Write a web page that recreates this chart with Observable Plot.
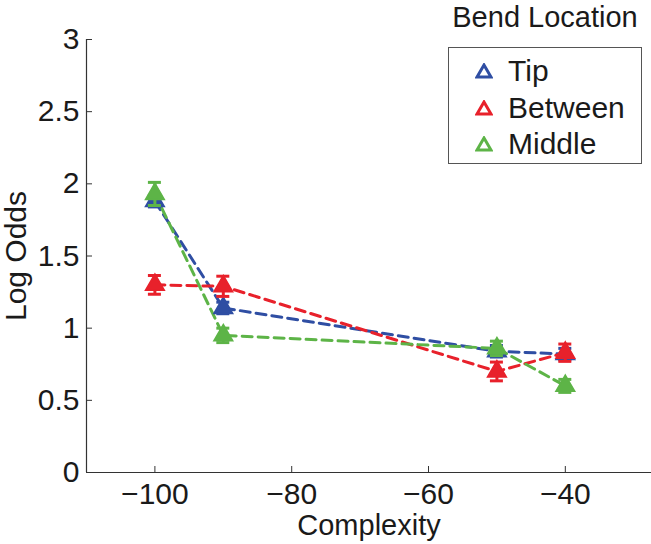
<!DOCTYPE html>
<html>
<head>
<meta charset="utf-8">
<script src="https://cdn.jsdelivr.net/npm/d3@7"></script>
<script src="https://cdn.jsdelivr.net/npm/@observablehq/plot@0.6"></script>
<style>
  body { margin: 0; background: #fff; }
  #wrap { position: relative; width: 651px; height: 544px; font-family: "Liberation Sans", Arial, sans-serif; }
  #legend-title { position: absolute; left: 440px; top: 3px; width: 210px; text-align: center; font-size: 29px; line-height: 29px; color: #1a1a1a; }
  #legend { position: absolute; left: 448px; top: 47px; width: 194px; height: 117px; border: 1.3px solid #555; box-sizing: border-box; }
  .row { position: absolute; left: 0; height: 36px; display: flex; align-items: center; font-size: 30px; color: #1a1a1a; }
  .row svg { margin-left: 26px; margin-right: 15px; }
</style>
</head>
<body>
<div id="wrap"></div>
<script>
const complexity = [-100, -90, -50, -40];
const seriesNames = ["Tip", "Between", "Middle"];
const colors = ["#2f4ea3", "#e8212b", "#5db447"];
const tipValues = [1.88, 1.14, 0.84, 0.82];
const tipErr = [0.04, 0.04, 0.04, 0.04];
const betweenValues = [1.30, 1.29, 0.70, 0.83];
const betweenErr = [0.065, 0.07, 0.065, 0.06];
const middleValues = [1.93, 0.95, 0.86, 0.60];
const middleErr = [0.08, 0.05, 0.05, 0.045];
const yTicks = [0, 0.5, 1, 1.5, 2, 2.5, 3];
const xTicks = [-100, -80, -60, -40];

const allValues = [tipValues, betweenValues, middleValues];
const allErr = [tipErr, betweenErr, middleErr];
const data = [];
seriesNames.forEach((s, i) => complexity.forEach((c, j) => data.push({series: s, x: c, y: allValues[i][j], e: allErr[i][j]})));

const capHalf = 0.95;
const marks = [];
seriesNames.forEach((s, i) => {
  const d = data.filter(r => r.series === s);
  marks.push(Plot.line(d, {x: "x", y: "y", stroke: colors[i], strokeWidth: 3, strokeDasharray: "10,6"}));
});
seriesNames.forEach((s, i) => {
  const d = data.filter(r => r.series === s);
  marks.push(Plot.ruleX(d, {x: "x", y1: r => r.y - r.e, y2: r => r.y + r.e, stroke: colors[i], strokeWidth: 3}));
  marks.push(Plot.ruleY(d, {y: r => r.y + r.e, x1: r => r.x - capHalf, x2: r => r.x + capHalf, stroke: colors[i], strokeWidth: 3}));
  marks.push(Plot.ruleY(d, {y: r => r.y - r.e, x1: r => r.x - capHalf, x2: r => r.x + capHalf, stroke: colors[i], strokeWidth: 3}));
  marks.push(Plot.dot(d, {x: "x", y: "y", symbol: "triangle", r: 7, fill: colors[i], stroke: colors[i], strokeWidth: 1.5}));
});

const chart = Plot.plot({
  width: 651,
  height: 544,
  marginLeft: 86,
  marginRight: 0,
  marginTop: 39,
  marginBottom: 72,
  style: {fontFamily: "Liberation Sans, Arial, sans-serif", fontSize: "30px", color: "#1a1a1a", background: "#fff"},
  x: {domain: [-110, -27.4]},
  y: {domain: [0, 3]},
  marks: [
    Plot.axisX({ticks: xTicks, tickSize: -6, tickPadding: 16, tickFormat: d => "\u2212" + Math.abs(d), fontSize: 30, stroke: "#333", label: null}),
    Plot.axisX({ticks: [], label: "Complexity", labelAnchor: "center", labelOffset: 62, labelArrow: "none", fontSize: 29}),
    Plot.axisY({ticks: yTicks, tickSize: -6, tickPadding: 13, tickFormat: d => String(d), label: "Log Odds", labelAnchor: "center", labelOffset: 82, labelArrow: "none", fontSize: 30, stroke: "#333"}),
    Plot.ruleX([-110], {stroke: "#333", strokeWidth: 1.2}),
    Plot.ruleY([0], {stroke: "#333", strokeWidth: 1.2}),
    ...marks
  ]
});

const wrap = document.getElementById("wrap");
wrap.appendChild(chart);

const title = document.createElement("div");
title.id = "legend-title";
title.textContent = "Bend Location";
wrap.appendChild(title);

const legend = document.createElement("div");
legend.id = "legend";
seriesNames.forEach((s, i) => {
  const row = document.createElement("div");
  row.className = "row";
  row.style.top = (5 + i * 36.5) + "px";
  row.innerHTML = `<svg width="18" height="16" viewBox="0 0 18 16"><polygon points="9,2 16,14 2,14" fill="#fff" stroke="${colors[i]}" stroke-width="3" stroke-linejoin="miter"/></svg><span>${s}</span>`;
  legend.appendChild(row);
});
wrap.appendChild(legend);
</script>
</body>
</html>
